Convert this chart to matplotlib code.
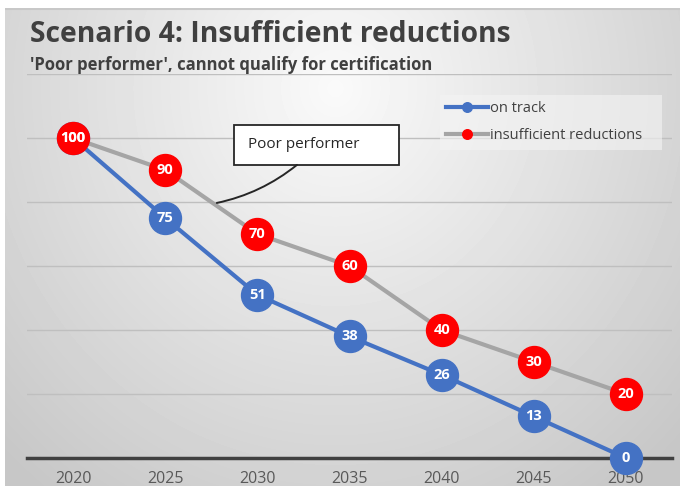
import numpy as np
import matplotlib.pyplot as plt
from matplotlib.patches import Rectangle

years = ['2020', '2025', '2030', '2035', '2040', '2045', '2050']
on_track = [100, 75, 51, 38, 26, 13, 0]
insufficient = [100, 90, 70, 60, 40, 30, 20]

plt.rcParams['font.family'] = ['Open Sans', 'DejaVu Sans']

fig = plt.figure(figsize=(6.8, 4.86), dpi=100)
fig.patch.set_facecolor('white')

# background: soft radial gradient like the slide
bg = fig.add_axes([5 / 680, 0, 675 / 680, 1 - 8 / 486])
h, w = 478, 675
yy, xx = np.mgrid[0:h, 0:w]
r = np.sqrt(((xx - 330) / 520) ** 2 + ((yy - 80) / 560) ** 2)
shade = np.clip(0.98 - 0.22 * r, 0.78, 0.98)
bg.imshow(shade, cmap='gray', vmin=0, vmax=1, aspect='auto', interpolation='bilinear')
bg.axhline(0, color='#c8c8c8', lw=1.5)
bg.set_axis_off()

ax = fig.add_axes([27 / 680, 28 / 486, 645 / 680, 384 / 486])
ax.patch.set_alpha(0)
x = np.arange(len(years))

ax.plot(x, on_track, color='#4472c4', lw=3, marker='o', ms=23,
        mfc='#4472c4', mec='#4472c4', label='on track', zorder=3)
ax.plot(x, insufficient, color='#a5a5a5', lw=3, marker='o', ms=23,
        mfc='#ff0000', mec='#ff0000', label='insufficient reductions', zorder=4)

for xi, v in zip(x, on_track):
    ax.text(xi, v, str(v), color='white', fontsize=10.5, fontweight='bold',
            ha='center', va='center', zorder=5)
for xi, v in zip(x, insufficient):
    ax.text(xi, v, str(v), color='white', fontsize=10.5, fontweight='bold',
            ha='center', va='center', zorder=6)

ax.set_xlim(-0.5, len(years) - 0.5)
ax.set_ylim(0, 120)
ax.set_yticks([20, 40, 60, 80, 100, 120])
ax.grid(axis='y', color='#bfbfbf', lw=1)
ax.set_axisbelow(True)
ax.axhline(0, color='#404040', lw=2.5, zorder=2)
for s in ax.spines.values():
    s.set_visible(False)
ax.set_xticks(x)
ax.set_xticklabels(years, color='#595959', fontsize=11.5)
ax.tick_params(axis='x', length=0, pad=9)
ax.tick_params(axis='y', length=0, labelleft=False)
for line in ax.lines:
    line.set_clip_on(False)

# legend panel
ax.add_patch(Rectangle((440 / 680, 1 - 150 / 486), 222 / 680, 55 / 486,
                       transform=fig.transFigure, fc='#f4f4f4',
                       ec='none', alpha=0.6, zorder=1, clip_on=False))
leg = ax.legend(loc='upper left',
                bbox_to_anchor=((440 - 27) / 645, (458 - 95) / 384),
                bbox_transform=ax.transAxes, markerscale=0.3, frameon=False,
                fontsize=10.5, handlelength=2.9,
                handletextpad=0.1, labelspacing=0.85, borderpad=0.4,
                borderaxespad=0)
for t in leg.get_texts():
    t.set_color('#404040')

# callout box
ax.add_patch(Rectangle((1.747, 91.6), 1.79, 12.5, fc='white', ec='#262626',
                       lw=1.3, zorder=7))
ax.text(1.90, 98.0, 'Poor performer', fontsize=11, color='#262626',
        ha='left', va='center', zorder=8)
ax.annotate('', xy=(1.56, 79.7), xytext=(2.43, 91.6),
            arrowprops=dict(arrowstyle='-', color='#262626', lw=1.4,
                            connectionstyle='arc3,rad=-0.12',
                            shrinkA=0, shrinkB=0), zorder=7)

fig.text(30 / 680, 1 - 34 / 486, 'Scenario 4: Insufficient reductions',
         fontsize=20.3, fontweight='bold', color='#404040', va='center')
fig.text(30 / 680, 1 - 65 / 486, "'Poor performer', cannot qualify for certification",
         fontsize=12, fontweight='bold', color='#404040', va='center')

fig.savefig('out.png', dpi=100)
